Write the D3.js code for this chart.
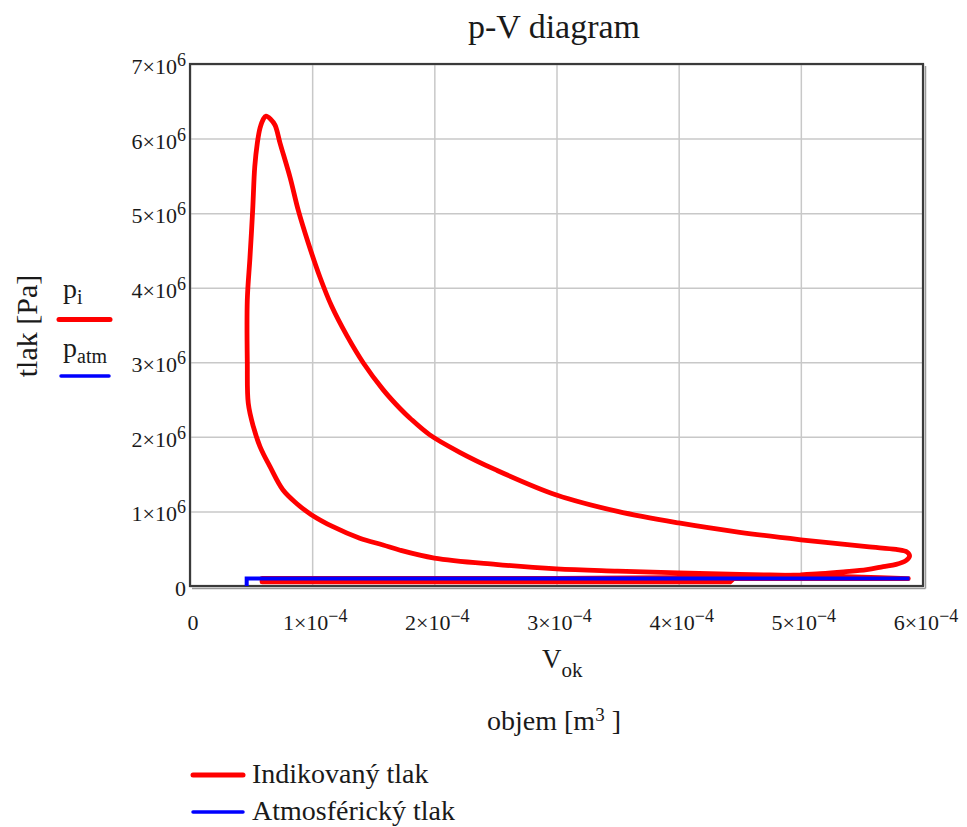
<!DOCTYPE html>
<html>
<head>
<meta charset="utf-8">
<script src="https://cdn.jsdelivr.net/npm/d3@7"></script>
<style>
  html, body { margin: 0; padding: 0; background: #fff; }
  svg { display: block; }
  text { font-family: "Liberation Serif", "Times New Roman", serif; fill: #1a1a1a; }
</style>
</head>
<body>
<svg id="chart" width="967" height="827"></svg>
<script>
// Indicated pressure loop of one engine cycle: volume [m3] and pressure [Pa]
// (compression, combustion, expansion, exhaust, intake)
const indicatedVolume = [
  5.88e-4, 5.5e-4, 5.0e-4, 4.5e-4, 4.0e-4, 3.5e-4, 3.0e-4, 2.5e-4, 2.0e-4, 1.72e-4,
  1.58e-4, 1.39e-4, 1.17e-4, 0.99e-4, 0.87e-4, 0.76e-4, 0.655e-4, 0.573e-4, 0.518e-4, 0.477e-4,
  0.469e-4, 0.469e-4, 0.491e-4, 0.513e-4, 0.530e-4, 0.551e-4, 0.573e-4, 0.60e-4, 0.622e-4,
  0.66e-4, 0.696e-4, 0.737e-4, 0.819e-4, 0.886e-4, 0.968e-4, 1.064e-4, 1.16e-4, 1.283e-4, 1.419e-4,
  1.582e-4, 1.719e-4, 1.801e-4, 1.96e-4, 2.2e-4, 2.5e-4, 3.0e-4, 3.5e-4, 4.0e-4, 4.5e-4,
  5.0e-4, 5.54e-4, 5.78e-4, 5.87e-4, 5.89e-4,
  5.86e-4, 5.78e-4, 5.675e-4, 5.54e-4, 5.35e-4, 5.16e-4, 5.0e-4, 4.5e-4, 3.0e-4, 0.59e-4,
  0.59e-4, 4.42e-4, 4.45e-4, 5.88e-4
];
const indicatedPressure = [
  0.10e6, 0.12e6, 0.14e6, 0.155e6, 0.175e6, 0.20e6, 0.23e6, 0.29e6, 0.375e6, 0.48e6,
  0.55e6, 0.64e6, 0.795e6, 0.96e6, 1.11e6, 1.29e6, 1.60e6, 1.87e6, 2.14e6, 2.45e6,
  3.0e6, 3.835e6, 4.41e6, 5.04e6, 5.62e6, 5.94e6, 6.14e6, 6.26e6, 6.30e6,
  6.26e6, 6.18e6, 5.94e6, 5.48e6, 5.04e6, 4.60e6, 4.14e6, 3.75e6, 3.36e6, 2.99e6,
  2.63e6, 2.38e6, 2.25e6, 2.03e6, 1.80e6, 1.56e6, 1.22e6, 1.0e6, 0.845e6, 0.72e6,
  0.62e6, 0.527e6, 0.49e6, 0.455e6, 0.40e6,
  0.34e6, 0.29e6, 0.26e6, 0.22e6, 0.19e6, 0.165e6, 0.15e6, 0.12e6, 0.103e6, 0.103e6,
  0.054e6, 0.054e6, 0.10e6, 0.10e6
];
// The loop is drawn smoothly up to this point; the low-pressure
// strokes after it are straight runs.
const smoothEnd = 60;

// Atmospheric pressure line
const atmVolume = [0.464e-4, 0.464e-4, 5.89e-4];
const atmPressure = [0, 101300, 101300];

// Axis ticks and their labels ("^" marks the exponent)
const xTicks = [0, 1e-4, 2e-4, 3e-4, 4e-4, 5e-4, 6e-4];
const xTickLabels = ["0", "1×10^−4", "2×10^−4", "3×10^−4", "4×10^−4", "5×10^−4", "6×10^−4"];
const yTicks = [0, 1e6, 2e6, 3e6, 4e6, 5e6, 6e6, 7e6];
const yTickLabels = ["0", "1×10^6", "2×10^6", "3×10^6", "4×10^6", "5×10^6", "6×10^6", "7×10^6"];

const titleText = "p-V diagram";
const yAxisTitle = "tlak [Pa]";
const legendNames = ["Indikovaný tlak", "Atmosférický tlak"];
const seriesColors = ["#ff0000", "#0000ff"];

const svg = d3.select("#chart");
const plot = { left: 190, right: 923, top: 64, bottom: 586 };

const x = d3.scaleLinear().domain([0, 6e-4]).range([plot.left, plot.right]);
const y = d3.scaleLinear().domain([0, 7e6]).range([plot.bottom, plot.top]);

// Grid lines drawn through the axis generators
svg.append("g")
  .attr("transform", `translate(0,${plot.bottom})`)
  .call(d3.axisBottom(x).tickValues(xTicks).tickSize(-(plot.bottom - plot.top)).tickFormat(""))
  .call(g => g.select(".domain").remove())
  .call(g => g.selectAll("line").attr("stroke", "#c8c8c8").attr("stroke-width", 1.5));
svg.append("g")
  .attr("transform", `translate(${plot.left},0)`)
  .call(d3.axisLeft(y).tickValues(yTicks).tickSize(-(plot.right - plot.left)).tickFormat(""))
  .call(g => g.select(".domain").remove())
  .call(g => g.selectAll("line").attr("stroke", "#c8c8c8").attr("stroke-width", 1.5));

// Frame with a light shadow on the right and bottom
svg.append("line").attr("x1", plot.right + 2.5).attr("x2", plot.right + 2.5)
  .attr("y1", plot.top + 2).attr("y2", plot.bottom + 2.5).attr("stroke", "#9a9a9a").attr("stroke-width", 1.5);
svg.append("line").attr("x1", plot.left + 2).attr("x2", plot.right + 2.5)
  .attr("y1", plot.bottom + 2.5).attr("y2", plot.bottom + 2.5).attr("stroke", "#9a9a9a").attr("stroke-width", 1.5);
svg.append("rect")
  .attr("x", plot.left).attr("y", plot.top)
  .attr("width", plot.right - plot.left).attr("height", plot.bottom - plot.top)
  .attr("fill", "none").attr("stroke", "#3a3a3a").attr("stroke-width", 2.2);

// Series
const smoothLine = d3.line().x(d => x(d[0])).y(d => y(d[1])).curve(d3.curveCatmullRom.alpha(0.5));
const straightLine = d3.line().x(d => x(d[0])).y(d => y(d[1]));
const indicated = indicatedVolume.map((v, i) => [v, indicatedPressure[i]]);
const atm = atmVolume.map((v, i) => [v, atmPressure[i]]);

const loopPath = smoothLine(indicated.slice(0, smoothEnd + 1)) +
  straightLine(indicated.slice(smoothEnd));
svg.append("path")
  .attr("d", loopPath).attr("fill", "none")
  .attr("stroke", seriesColors[0]).attr("stroke-width", 4.8)
  .attr("stroke-linejoin", "round").attr("stroke-linecap", "round");
svg.append("path").datum(atm)
  .attr("d", straightLine).attr("fill", "none")
  .attr("stroke", seriesColors[1]).attr("stroke-width", 4)
  .attr("stroke-linejoin", "miter");

// Text with an exponent written as "a^b"
function expText(sel, label, mainSize, supSize, rise) {
  const parts = label.split("^");
  sel.append("tspan").attr("font-size", mainSize).text(parts[0]);
  if (parts.length > 1) {
    sel.append("tspan").attr("font-size", supSize).attr("dy", -rise).text(parts[1]);
  }
}

// Y tick labels
yTicks.forEach((t, i) => {
  const txt = svg.append("text")
    .attr("x", plot.left - 4).attr("y", y(t) + 10)
    .attr("text-anchor", "end");
  expText(txt, yTickLabels[i], 22, 18, 8);
});

// X tick labels
xTicks.forEach((t, i) => {
  const txt = svg.append("text")
    .attr("x", x(t) + 3).attr("y", 630)
    .attr("text-anchor", "middle");
  expText(txt, xTickLabels[i], 22, 18, 8);
});

// Title
svg.append("text").attr("x", 554).attr("y", 38)
  .attr("text-anchor", "middle").attr("font-size", 34).text(titleText);

// X axis variable and title
const vok = svg.append("text").attr("x", 542).attr("y", 668);
vok.append("tspan").attr("font-size", 27).text("V");
vok.append("tspan").attr("font-size", 21).attr("dy", 9).text("ok");

const objem = svg.append("text").attr("x", 554).attr("y", 730)
  .attr("text-anchor", "middle").attr("font-size", 28);
objem.append("tspan").text("objem [m");
objem.append("tspan").attr("font-size", 19).attr("dy", -9).text("3");
objem.append("tspan").attr("dy", 9).text(" ]");

// Y axis title
svg.append("text")
  .attr("transform", "translate(37,326) rotate(-90)")
  .attr("text-anchor", "middle").attr("font-size", 30).text(yAxisTitle);

// Trace names beside the y axis
const pi = svg.append("text").attr("x", 63).attr("y", 298);
pi.append("tspan").attr("font-size", 28).text("p");
pi.append("tspan").attr("font-size", 20).attr("dy", 6).text("i");
svg.append("line").attr("x1", 59).attr("x2", 110).attr("y1", 319.5).attr("y2", 319.5)
  .attr("stroke", seriesColors[0]).attr("stroke-width", 5).attr("stroke-linecap", "round");

const patm = svg.append("text").attr("x", 63).attr("y", 357);
patm.append("tspan").attr("font-size", 28).text("p");
patm.append("tspan").attr("font-size", 20).attr("dy", 6).text("atm");
svg.append("line").attr("x1", 61).attr("x2", 109).attr("y1", 376).attr("y2", 376)
  .attr("stroke", seriesColors[1]).attr("stroke-width", 3.5).attr("stroke-linecap", "round");

// Legend below the chart
const legendY = [775, 812];
legendNames.forEach((name, i) => {
  svg.append("line").attr("x1", 193).attr("x2", 243).attr("y1", legendY[i]).attr("y2", legendY[i])
    .attr("stroke", seriesColors[i]).attr("stroke-width", i === 0 ? 5 : 3.5).attr("stroke-linecap", "round");
  svg.append("text").attr("x", 252).attr("y", legendY[i] + 8)
    .attr("font-size", 28).text(name);
});
</script>
</body>
</html>
